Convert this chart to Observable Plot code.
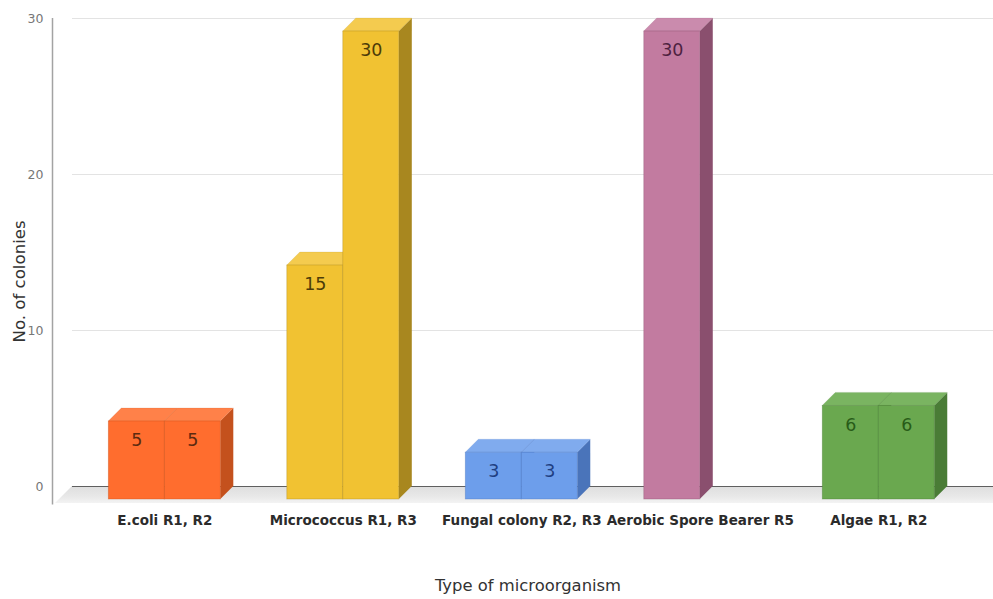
<!DOCTYPE html>
<html>
<head>
<meta charset="utf-8">
<script src="https://cdn.jsdelivr.net/npm/d3@7"></script>
<script src="https://cdn.jsdelivr.net/npm/@observablehq/plot@0.6"></script>
<style>
  html, body { margin: 0; padding: 0; background: #ffffff; }
  #chart svg { display: block; }
</style>
</head>
<body>
<div id="chart"></div>
<script>
// Colony counts per microorganism, two replicate plates each
const categories = ["E.coli R1, R2", "Micrococcus R1, R3", "Fungal colony R2, R3", "Aerobic Spore Bearer R5", "Algae R1, R2"];
const replicateA = [5, 15, 3, 30, 6];
const replicateB = [5, 30, 3, null, 6];
const yTicks = [0, 10, 20, 30];
const xTitle = "Type of microorganism";
const yTitle = "No. of colonies";

// Face shades for each category (front, top, side, value label)
const frontColors = ["#ff6d2e", "#f1c232", "#6d9eeb", "#c27ba0", "#6aa84f"];
const topColors   = ["#ff8149", "#f4cb4f", "#80abee", "#ca8bad", "#7ab461"];
const sideColors  = ["#c4511d", "#a8871f", "#4a74ba", "#8a4f6e", "#4a7c36"];
const labelColors = ["#5c2a10", "#4d3c08", "#1f3f82", "#4e2240", "#285c18"];

// Oblique depth of the bars and of the floor, in data units
const BAR_W = 0.3137;   // width of one replicate bar (category spacing = 1)
const DX = 0.0728, DY = 0.833;    // bar depth
const FDX = 0.0952, FDY = 1.09;   // floor depth
const xDomain = [-0.59, 4.57];

const bars = categories.flatMap((cat, i) =>
  [replicateA[i], replicateB[i]].map((v, k) => ({
    id: `${i}-${k}`, i, v,
    x1: i + (k - 1) * BAR_W,
    x2: i + k * BAR_W
  })).filter(d => d.v != null)
);

// side face: vertical edges at the front-right and back-right corners
const sides = bars.flatMap(d => [
  {id: d.id, i: d.i, x: d.x2 - DX, y1: -DY, y2: d.v - DY},
  {id: d.id, i: d.i, x: d.x2, y1: 0, y2: d.v}
]);
// top face: horizontal edges at the front and back
const tops = bars.flatMap(d => [
  {id: d.id, i: d.i, y: d.v - DY, x1: d.x1 - DX, x2: d.x2 - DX},
  {id: d.id, i: d.i, y: d.v, x1: d.x1, x2: d.x2}
]);
const floor = [
  {y: -FDY, x1: xDomain[0] - FDX, x2: xDomain[1]},
  {y: 0, x1: xDomain[0], x2: xDomain[1]}
];

const font = "DejaVu Sans, Liberation Sans, sans-serif";

const chart = Plot.plot({
  width: 993,
  height: 599,
  marginLeft: 72,
  marginRight: 0,
  marginTop: 18,
  marginBottom: 113,
  style: {fontFamily: font, background: "#ffffff", overflow: "visible"},
  x: {type: "linear", domain: xDomain},
  y: {domain: [0, 30]},
  color: {type: "identity"},
  marks: [
    Plot.areaX(floor, {y: "y", x1: "x1", x2: "x2", fill: "url(#floorShade)"}),
    Plot.ruleY(yTicks.filter(t => t > 0), {stroke: "#e3e3e3", strokeWidth: 1.2}),
    Plot.ruleY([0], {stroke: "#5f5f5f", strokeWidth: 1}),
    Plot.ruleX([xDomain[0]], {y1: -FDY - 0.1, y2: 30, dx: -20, stroke: "#a3a3a3", strokeWidth: 1.5}),
    Plot.areaY(sides, {x: "x", y1: "y1", y2: "y2", z: "id", fill: d => sideColors[d.i]}),
    Plot.areaX(tops, {y: "y", x1: "x1", x2: "x2", z: "id", fill: d => topColors[d.i],
      stroke: d => sideColors[d.i], strokeOpacity: 0.25, strokeWidth: 0.6}),
    Plot.rect(bars, {
      x1: d => d.x1 - DX, x2: d => d.x2 - DX,
      y1: () => -DY, y2: d => d.v - DY,
      fill: d => frontColors[d.i],
      stroke: d => sideColors[d.i], strokeOpacity: 0.45, strokeWidth: 0.8
    }),
    Plot.text(bars, {
      x: d => (d.x1 + d.x2) / 2 - DX, y: d => d.v - DY, dy: 19,
      text: d => String(d.v), fill: d => labelColors[d.i],
      fontSize: 17.5, fontFamily: font
    }),
    Plot.axisY({
      ticks: yTicks, tickSize: 0, tickPadding: 29, label: null,
      fontSize: 12.5, fill: "#777777", fontFamily: font
    }),
    Plot.axisX({
      ticks: categories.map((_, i) => i), tickFormat: i => categories[i],
      tickSize: 0, tickPadding: 29, dx: -13, label: null,
      fontSize: 13.5, fontWeight: "bold", fill: "#2b2b2b", fontFamily: font
    }),
    Plot.text([xTitle], {
      frameAnchor: "bottom", dy: 99, dx: -5, lineAnchor: "middle",
      fontSize: 16.4, fill: "#333333", fontFamily: font
    }),
    Plot.text([yTitle], {
      frameAnchor: "left", dx: -53, dy: 90, rotate: -90, lineAnchor: "middle",
      fontSize: 16.6, fill: "#333333", fontFamily: font
    })
  ]
});

// vertical shading of the floor plane
const ns = "http://www.w3.org/2000/svg";
const defs = document.createElementNS(ns, "defs");
const grad = document.createElementNS(ns, "linearGradient");
grad.setAttribute("id", "floorShade");
grad.setAttribute("x1", "0"); grad.setAttribute("y1", "0");
grad.setAttribute("x2", "0"); grad.setAttribute("y2", "1");
[["0", "#dedede"], ["0.6", "#e8e8e8"], ["1", "#f3f3f3"]].forEach(([o, c]) => {
  const s = document.createElementNS(ns, "stop");
  s.setAttribute("offset", o);
  s.setAttribute("stop-color", c);
  grad.appendChild(s);
});
defs.appendChild(grad);
chart.insertBefore(defs, chart.firstChild);

document.getElementById("chart").appendChild(chart);
</script>
</body>
</html>
